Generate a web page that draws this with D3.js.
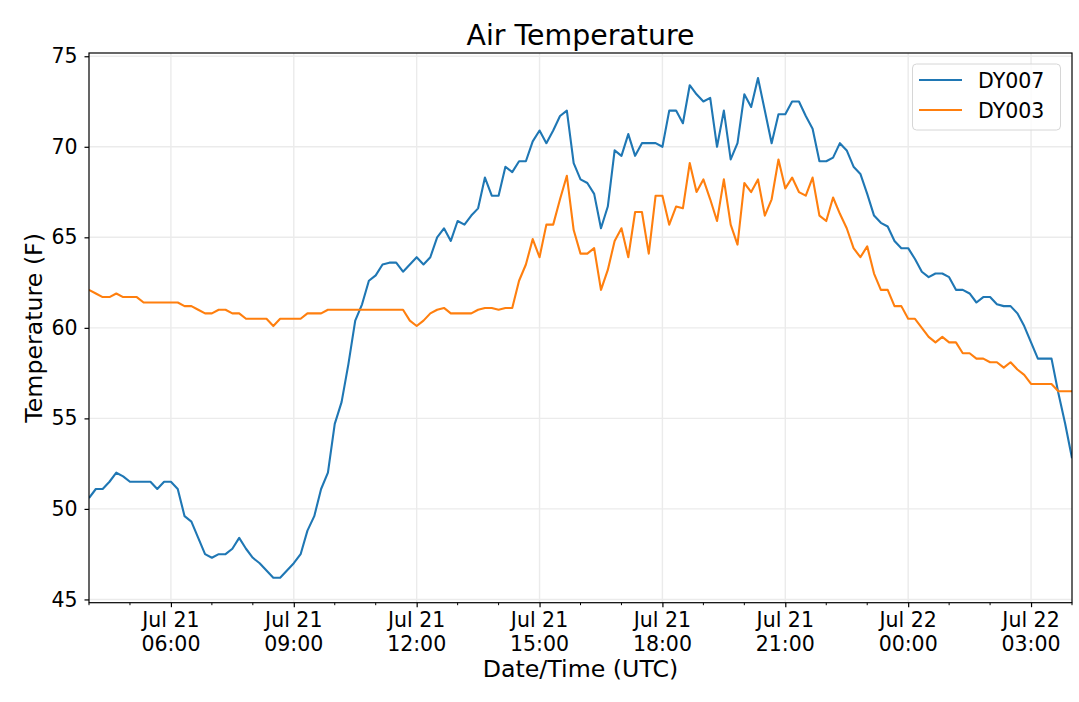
<!DOCTYPE html>
<html lang="en">
<head>
    <meta charset="UTF-8">
    <title>Air Temperature</title>
    <script src="https://d3js.org/d3.v7.min.js"></script>
    <style>
        body { margin: 0; background: #fff; }
        text { font-family: "DejaVu Sans", sans-serif; fill: #000; }
    </style>
</head>
<body>
    <script>
        // 10 minute readings, Jul 21 04:00 UTC to Jul 22 04:00 UTC
        var startTime = Date.UTC(2020, 6, 21, 4, 0);
        var stepMinutes = 10;

        var seriesNames = ["DY007", "DY003"];

        var dy007 = [
            50.6, 51.1, 51.1, 51.5, 52.0, 51.8, 51.5, 51.5, 51.5, 51.5,
            51.1, 51.5, 51.5, 51.1, 49.6, 49.3, 48.4, 47.5, 47.3, 47.5,
            47.5, 47.8, 48.4, 47.8, 47.3, 47.0, 46.6, 46.2, 46.2, 46.6,
            47.0, 47.5, 48.8, 49.6, 51.1, 52.0, 54.7, 55.9, 58.0, 60.4,
            61.3, 62.6, 62.9, 63.5, 63.6, 63.6, 63.1, 63.5, 63.9, 63.5,
            63.9, 65.0, 65.5, 64.8, 65.9, 65.7, 66.2, 66.6, 68.3, 67.3,
            67.3, 68.9, 68.6, 69.2, 69.2, 70.3, 70.9, 70.2, 70.9, 71.7,
            72.0, 69.1, 68.2, 68.0, 67.4, 65.5, 66.7, 69.8, 69.5, 70.7,
            69.5, 70.2, 70.2, 70.2, 70.0, 72.0, 72.0, 71.3, 73.4, 72.9,
            72.5, 72.7, 70.0, 72.0, 69.3, 70.2, 72.9, 72.2, 73.8, 72.0,
            70.2, 71.8, 71.8, 72.5, 72.5, 71.7, 71.0, 69.2, 69.2, 69.4,
            70.2, 69.8, 68.9, 68.5, 67.4, 66.2, 65.8, 65.6, 64.8, 64.4,
            64.4, 63.8, 63.1, 62.8, 63.0, 63.0, 62.8, 62.1, 62.1, 61.9,
            61.4, 61.7, 61.7, 61.3, 61.2, 61.2, 60.8, 60.1, 59.2, 58.3,
            58.3, 58.3, 56.4, 54.7, 52.8
        ];

        var dy003 = [
            62.1, 61.9, 61.7, 61.7, 61.9, 61.7, 61.7, 61.7, 61.4, 61.4,
            61.4, 61.4, 61.4, 61.4, 61.2, 61.2, 61.0, 60.8, 60.8, 61.0,
            61.0, 60.8, 60.8, 60.5, 60.5, 60.5, 60.5, 60.1, 60.5, 60.5,
            60.5, 60.5, 60.8, 60.8, 60.8, 61.0, 61.0, 61.0, 61.0, 61.0,
            61.0, 61.0, 61.0, 61.0, 61.0, 61.0, 61.0, 60.4, 60.1, 60.4,
            60.8, 61.0, 61.1, 60.8, 60.8, 60.8, 60.8, 61.0, 61.1, 61.1,
            61.0, 61.1, 61.1, 62.6, 63.5, 64.9, 63.9, 65.7, 65.7, 67.1,
            68.4, 65.4, 64.1, 64.1, 64.4, 62.1, 63.2, 64.8, 65.5, 63.9,
            66.4, 66.4, 64.1, 67.3, 67.3, 65.7, 66.7, 66.6, 69.1, 67.5,
            68.2, 67.1, 65.9, 68.2, 65.7, 64.6, 68.0, 67.5, 68.2, 66.2,
            67.1, 69.3, 67.7, 68.3, 67.5, 67.3, 68.3, 66.2, 65.9, 67.2,
            66.3, 65.5, 64.4, 63.9, 64.5, 63.0, 62.1, 62.1, 61.2, 61.2,
            60.5, 60.5, 60.0, 59.5, 59.2, 59.5, 59.2, 59.2, 58.6, 58.6,
            58.3, 58.3, 58.1, 58.1, 57.8, 58.1, 57.7, 57.4, 56.9, 56.9,
            56.9, 56.9, 56.5, 56.5, 56.5
        ];

        var yTicks = [45, 50, 55, 60, 65, 70, 75];

        var colors = ["#1f77b4", "#ff7f0e"];

        var w = 1079;
        var h = 702;
        var box = { left: 89, right: 1072, top: 53, bottom: 602.7 };

        var times = dy007.map(function(d, i) {
            return new Date(startTime + i * stepMinutes * 60000);
        });
        var series = [dy007, dy003];

        var svg = d3.select("body")
            .append("svg")
            .attr("width", w)
            .attr("height", h);

        var x = d3.scaleUtc()
            .domain(d3.extent(times))
            .range([box.left, box.right]);

        // matplotlib-style 5% padding around the data range
        var lo = d3.min(series, s => d3.min(s));
        var hi = d3.max(series, s => d3.max(s));
        var pad = (hi - lo) * 0.05;
        var y = d3.scaleLinear()
            .domain([lo - pad, hi + pad])
            .range([box.bottom, box.top]);

        var majorTicks = x.ticks(d3.utcHour.every(3));
        var minorTicks = x.ticks(d3.utcHour.every(1));

        // grid
        var grid = svg.append("g").attr("stroke", "#ebebeb").attr("stroke-width", 1.4);
        grid.selectAll(".gx")
            .data(majorTicks)
            .enter().append("line")
            .attr("x1", d => x(d)).attr("x2", d => x(d))
            .attr("y1", box.top).attr("y2", box.bottom);
        grid.selectAll(".gy")
            .data(yTicks)
            .enter().append("line")
            .attr("x1", box.left).attr("x2", box.right)
            .attr("y1", d => y(d)).attr("y2", d => y(d));

        // lines
        var line = d3.line()
            .x((d, i) => x(times[i]))
            .y(d => y(d));

        svg.append("defs").append("clipPath").attr("id", "clip")
            .append("rect")
            .attr("x", box.left).attr("y", box.top)
            .attr("width", box.right - box.left)
            .attr("height", box.bottom - box.top);

        svg.append("g").attr("clip-path", "url(#clip)")
            .selectAll("path")
            .data(series)
            .enter().append("path")
            .attr("d", line)
            .attr("fill", "none")
            .attr("stroke", (d, i) => colors[i])
            .attr("stroke-width", 2.1)
            .attr("stroke-linejoin", "round");

        // x axis
        var xAxis = d3.axisBottom(x)
            .tickValues(majorTicks)
            .tickSize(4.5)
            .tickPadding(4)
            .tickFormat("");
        var gx = svg.append("g")
            .attr("transform", "translate(0," + box.bottom + ")")
            .call(xAxis);
        gx.select(".domain").remove();
        gx.selectAll("line").attr("stroke", "#000").attr("stroke-width", 1.2);

        svg.append("g")
            .attr("transform", "translate(0," + box.bottom + ")")
            .selectAll("line")
            .data(minorTicks.filter(t => t.getUTCHours() % 3 !== 0))
            .enter().append("line")
            .attr("x1", d => x(d)).attr("x2", d => x(d))
            .attr("y1", 0).attr("y2", 2.5)
            .attr("stroke", "#000").attr("stroke-width", 1);

        var fmtDay = d3.utcFormat("%b %d");
        var fmtTime = d3.utcFormat("%H:%M");
        var xl = svg.append("g").selectAll("text")
            .data(majorTicks)
            .enter().append("text")
            .attr("text-anchor", "middle")
            .attr("font-size", "20.5px");
        xl.append("tspan")
            .attr("x", d => x(d)).attr("y", 627)
            .text(d => fmtDay(d));
        xl.append("tspan")
            .attr("x", d => x(d)).attr("y", 651)
            .text(d => fmtTime(d));

        // y axis
        var yAxis = d3.axisLeft(y)
            .tickValues(yTicks)
            .tickSize(4.5)
            .tickPadding(7);
        var gy = svg.append("g")
            .attr("transform", "translate(" + box.left + ",0)")
            .call(yAxis);
        gy.select(".domain").remove();
        gy.selectAll("line").attr("stroke", "#000").attr("stroke-width", 1.2);
        gy.selectAll("text")
            .attr("font-size", "20.5px")
            .attr("font-family", "DejaVu Sans")
            .attr("fill", "#000");

        // frame
        svg.append("rect")
            .attr("x", box.left).attr("y", box.top)
            .attr("width", box.right - box.left)
            .attr("height", box.bottom - box.top)
            .attr("fill", "none")
            .attr("stroke", "#000")
            .attr("stroke-width", 1.2);

        // titles
        var cx = (box.left + box.right) / 2;
        svg.append("text")
            .attr("x", cx).attr("y", 45)
            .attr("text-anchor", "middle")
            .attr("font-size", "28.4px")
            .text("Air Temperature");

        svg.append("text")
            .attr("x", cx).attr("y", 677)
            .attr("text-anchor", "middle")
            .attr("font-size", "23.7px")
            .text("Date/Time (UTC)");

        svg.append("text")
            .attr("transform", "translate(42," + ((box.top + box.bottom) / 2) + ") rotate(-90)")
            .attr("text-anchor", "middle")
            .attr("font-size", "23.7px")
            .text("Temperature (F)");

        // legend
        var legend = svg.append("g");
        legend.append("rect")
            .attr("x", 912.5).attr("y", 64)
            .attr("width", 148).attr("height", 66)
            .attr("rx", 4)
            .attr("fill", "#fff")
            .attr("fill-opacity", 0.8)
            .attr("stroke", "#d6d6d6")
            .attr("stroke-width", 1);
        var items = legend.selectAll(".item")
            .data(seriesNames)
            .enter().append("g")
            .attr("transform", (d, i) => "translate(0," + (80 + i * 30) + ")");
        items.append("line")
            .attr("x1", 919).attr("x2", 962)
            .attr("stroke", (d, i) => colors[i])
            .attr("stroke-width", 2.1);
        items.append("text")
            .attr("x", 978).attr("y", 7.5)
            .attr("font-size", "20.5px")
            .text(d => d);
    </script>
</body>
</html>
